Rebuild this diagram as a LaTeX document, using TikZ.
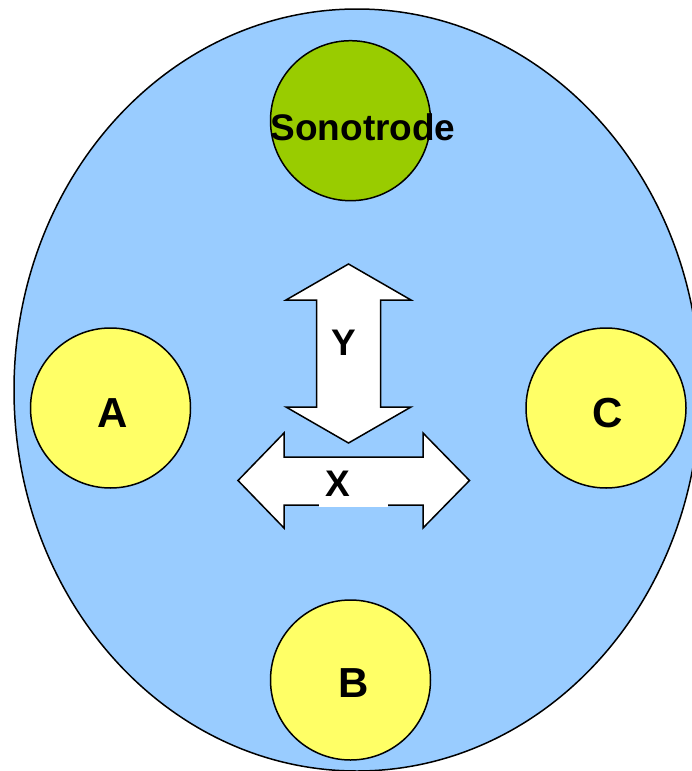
\documentclass[tikz,border=0pt]{standalone}
\usepackage{fontspec}
\setmainfont{Liberation Sans}
\definecolor{bgblue}{HTML}{99CCFF}
\definecolor{sonogreen}{HTML}{99CC00}
\definecolor{padyellow}{HTML}{FFFF66}
\begin{document}
\begin{tikzpicture}[x=1pt,y=-1pt,
  disc/.style={circle,draw=black,line width=1.5pt,minimum size=160pt,inner sep=0pt},
  biglab/.style={font=\fontsize{42}{42}\selectfont\bfseries,inner sep=0pt},
  midlab/.style={font=\fontsize{37}{37}\selectfont\bfseries,inner sep=0pt},
  movearrow/.style={draw=black,fill=white,line width=1.5pt,line join=miter}]
\useasboundingbox (0,0) rectangle (691,771);
% base plate
\draw[fill=bgblue,line width=1.5pt] (357,390) ellipse [x radius=343, y radius=381];
% circles
\node[disc,fill=sonogreen] (sono) at (350.5,120.7) {};
\node[disc,fill=padyellow] (A) at (110.5,408) {};
\node[disc,fill=padyellow] (C) at (606,408) {};
\node[disc,fill=padyellow] (B) at (350.5,680) {};
\node[midlab] (sonot) at ([shift={(12.5,7)}]sono.center) {Sonotrode};
\node[biglab] (At) at ([shift={(2.5,5)}]A.center) {A};
\node[biglab] (Ct) at ([shift={(2,5)}]C.center) {C};
\node[biglab] (Bt) at ([shift={(3,3.5)}]B.center) {B};
% Y arrow
\draw[movearrow] (348.5,264) -- (411,300) -- (380.5,300) -- (380.5,407) -- (411,407)
  -- (348.5,443) -- (286,407) -- (316.5,407) -- (316.5,300) -- (286,300) -- cycle;
\node[midlab] (Y) at (344,343) {Y};
% X arrow
\draw[movearrow] (238,480.5) -- (284,433) -- (284,457) -- (423,457) -- (423,433)
  -- (469.5,480.5) -- (423,528) -- (423,505) -- (284,505) -- (284,528) -- cycle;
\node[midlab,fill=white,text width=57pt,align=left,inner xsep=6pt,minimum height=46pt] (X) at (353.5,484) {X};
\end{tikzpicture}
\end{document}
